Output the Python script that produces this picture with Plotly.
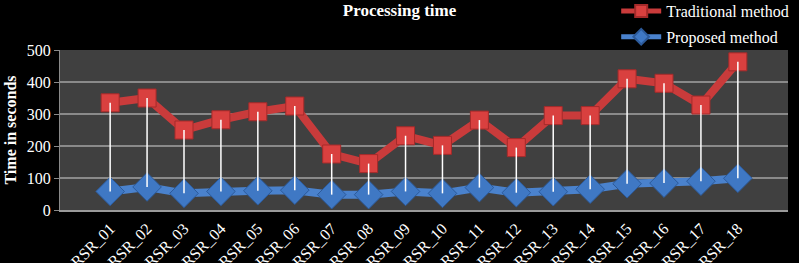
import plotly.graph_objects as go

categories = ["RSR_%02d" % i for i in range(1, 19)]
traditional = [335, 350, 250, 282, 307, 325, 175, 145, 232, 202, 281, 195, 295, 295, 410, 396, 328, 463]
proposed = [58, 72, 52, 58, 60, 62, 48, 48, 58, 52, 70, 54, 57, 65, 82, 84, 90, 99]
y_ticks = [0, 100, 200, 300, 400, 500]

SERIF = "Liberation Serif, Times New Roman, serif"
RED = "#C93B3B"
BLUE = "#4A82CD"

drop_x, drop_y = [], []
for c, t, p in zip(categories, traditional, proposed):
    drop_x += [c, c, None]
    drop_y += [t, p, None]

fig = go.Figure()
fig.add_trace(go.Scatter(
    x=categories, y=traditional, name="Traditional method",
    mode="lines+markers", legendgroup="a",
    line=dict(color=RED, width=8),
    marker=dict(symbol="square", size=18, color="#D9403F",
                line=dict(color="#A52A2A", width=1)),
))
fig.add_trace(go.Scatter(
    x=categories, y=proposed, name="Proposed method",
    mode="lines+markers", legendgroup="b",
    line=dict(color=BLUE, width=8),
    marker=dict(symbol="diamond", size=22, color="#3F78C4",
                line=dict(color="#2C5A9A", width=1)),
))
fig.add_trace(go.Scatter(
    x=drop_x, y=drop_y, mode="lines", showlegend=False, hoverinfo="skip",
    line=dict(color="white", width=1.5),
))

fig.update_layout(
    width=799, height=263,
    margin=dict(l=60, r=11, t=50, b=53, autoexpand=False),
    paper_bgcolor="black", plot_bgcolor="#404040",
    font=dict(family=SERIF, color="white", size=15),
    title=dict(text="<b>Processing time</b>", x=0.5, xanchor="center",
               y=0.985, yanchor="top", font=dict(size=17)),
    legend=dict(x=0.764, xanchor="left", y=1.35, yanchor="top",
                bgcolor="rgba(0,0,0,0)", font=dict(size=16),
                tracegroupgap=2, itemwidth=40, itemsizing="constant"),
    showlegend=True,
)
fig.update_xaxes(
    type="category", tickangle=-45, showgrid=False, automargin=False,
    showline=True, linecolor="#9a9a9a", linewidth=2,
    tickfont=dict(size=16), ticklabelstandoff=1,
    ticks="", zeroline=False,
)
fig.update_yaxes(
    range=[0, 500], tickvals=y_ticks, automargin=False,
    showgrid=True, gridcolor="#8a8a8a", gridwidth=1.5,
    showline=True, linecolor="#8a8a8a", linewidth=1,
    ticks="outside", ticklen=5, tickcolor="#8a8a8a",
    zeroline=False,
    tickfont=dict(size=16),
    title=dict(text="<b>Time in seconds</b>", font=dict(size=16), standoff=6),
)
fig.write_html(
    "out.html",
    config={"displayModeBar": False},
    post_script="document.body.style.margin='0';document.body.style.background='black';",
)
